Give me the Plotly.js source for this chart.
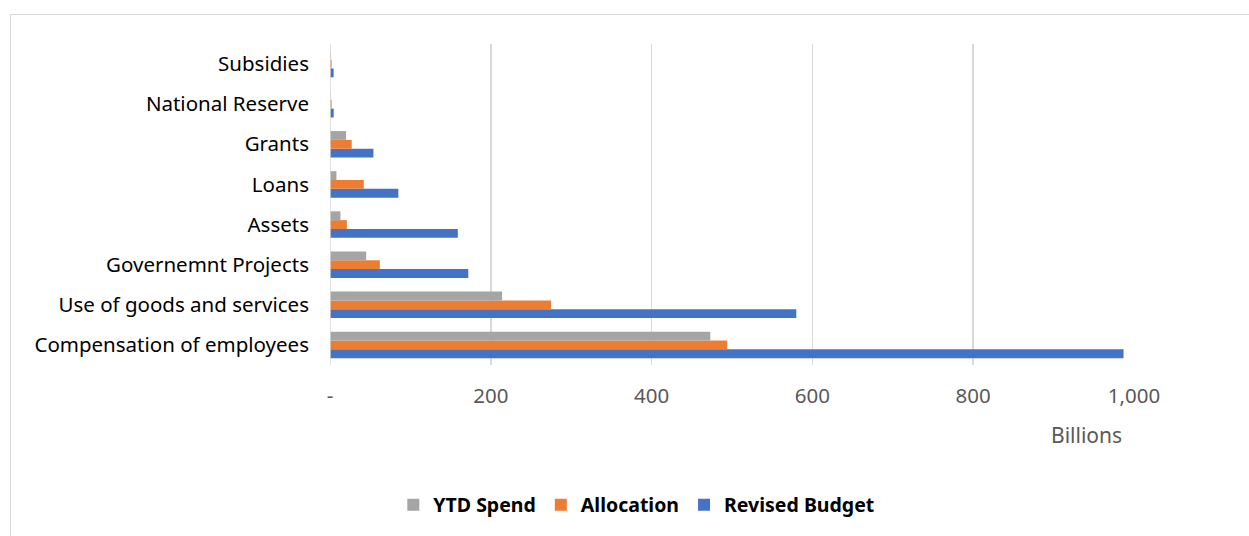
<!DOCTYPE html>
<html>
<head>
<meta charset="utf-8">
<script src="https://cdn.plot.ly/plotly-3.0.1.min.js"></script>
<style>
html,body{margin:0;padding:0;background:#fff;}
#frame{position:absolute;left:10px;top:14px;width:1260px;height:540px;border:1px solid #d9d9d9;box-sizing:border-box;}
#chart{position:absolute;left:0;top:0;width:1249px;height:536px;}
</style>
</head>
<body>
<div id="frame"></div>
<div id="chart"></div>
<script>
const categories = ["Compensation of employees","Use of goods and services","Governemnt Projects","Assets","Loans","Grants","National Reserve","Subsidies"];
const ytdSpend = [473, 214, 45, 13, 8, 20, 0.5, 1];
const allocation = [494, 275, 62, 21, 42, 27, 2, 2];
const revisedBudget = [987, 580, 172, 159, 85, 54, 4.6, 4.5];
const tickVals = [0, 200, 400, 600, 800, 1000];
const tickText = ["-", "200", "400", "600", "800", "1,000"];

const font = "Noto Sans, Open Sans, sans-serif";
const traces = [
  {type:'bar', orientation:'h', name:'Revised Budget', y:categories, x:revisedBudget, marker:{color:'#4472c4'}},
  {type:'bar', orientation:'h', name:'Allocation', y:categories, x:allocation, marker:{color:'#ed7d31'}},
  {type:'bar', orientation:'h', name:'YTD Spend', y:categories, x:ytdSpend, marker:{color:'#a5a5a5'}}
];
const layout = {
  width:1249, height:536,
  paper_bgcolor:'rgba(0,0,0,0)', plot_bgcolor:'rgba(0,0,0,0)',
  margin:{l:330, r:115, t:44, b:171},
  barmode:'group', bargap:0.34, bargroupgap:0,
  showlegend:true,
  legend:{orientation:'h', traceorder:'reversed', x:0.381, xanchor:'center', y:-0.436, yanchor:'middle',
    font:{family:font, size:19.5, color:'#000', weight:'bold'}, itemwidth:30},
  xaxis:{range:[0,1000], tickvals:tickVals, ticktext:tickText, showgrid:true, gridcolor:'#d9d9d9', gridwidth:1.5,
    zeroline:false, showline:false, ticks:'', ticklabelstandoff:16,
    tickfont:{family:font, size:20.5, color:'#595959'}, fixedrange:true},
  yaxis:{showgrid:false, zeroline:false, showline:false, ticks:'', ticklabelstandoff:20,
    tickfont:{family:font, size:20.5, color:'#000'}},
  shapes:[{type:'line', xref:'x', yref:'paper', x0:0, x1:0, y0:0, y1:1, line:{color:'#d9d9d9', width:1.5}}],
  annotations:[{text:'Billions', xref:'paper', yref:'paper', x:0.9415, y:-0.218, xanchor:'center', yanchor:'middle',
    showarrow:false, font:{family:font, size:21, color:'#595959'}}]
};
Plotly.newPlot('chart', traces, layout, {displayModeBar:false, staticPlot:true});
</script>
</body>
</html>
